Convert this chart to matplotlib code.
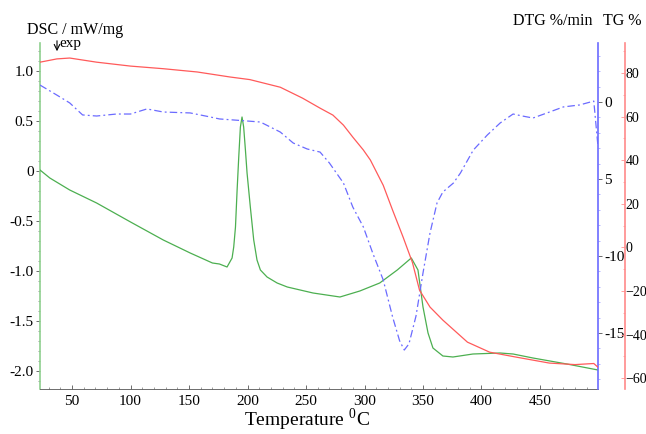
import matplotlib
matplotlib.use("Agg")
import matplotlib.pyplot as plt
from matplotlib.ticker import MultipleLocator, FixedLocator, FixedFormatter

plt.rcParams['font.family'] = ['Liberation Serif', 'DejaVu Serif']
plt.rcParams['mathtext.fontset'] = 'custom'
plt.rcParams['mathtext.rm'] = 'Liberation Serif'

# TG curve (%)
tg_temp = [22.6, 37, 48, 71, 100, 128, 157, 185, 202, 228, 247, 262, 273, 282, 290,
           299, 305, 316, 324, 333, 341, 347, 356, 367, 388, 407, 430, 458, 480, 496, 499.6]
tg_val = [85.0, 86.5, 86.9, 85.0, 83.2, 82.0, 80.5, 78.2, 77.0, 73.5, 68.5, 63.9, 60.7, 56.1, 50.6,
          44.7, 40.1, 28.5, 17.1, 4.7, -7.0, -19.6, -27.4, -33.4, -43.5, -48.1, -50.4, -53.1, -53.8, -53.3, -55.0]

# DTG curve (%/min)
dtg_temp = [22.6, 37, 48, 59, 71, 88, 100, 114, 128, 151, 168, 176, 185, 194, 211, 228, 239, 251,
            262, 270, 282, 290, 299, 307, 316, 324, 330, 334, 338, 344, 350, 356, 362, 367, 376,
            382, 393, 405, 416, 427, 435, 444, 456, 470, 484, 496, 499.6]
dtg_val = [1.10, 0.45, -0.06, -0.84, -0.91, -0.78, -0.78, -0.45, -0.65, -0.71, -0.97, -1.10, -1.15,
           -1.20, -1.30, -1.95, -2.66, -3.05, -3.25, -3.96, -5.26, -6.82, -8.11, -9.80, -11.55,
           -13.95, -15.5, -16.1, -15.7, -13.9, -11.1, -8.5, -6.55, -5.84, -5.26, -4.61, -3.12,
           -2.14, -1.36, -0.78, -0.91, -1.04, -0.71, -0.32, -0.19, 0.06, -2.9]

# DSC curve (mW/mg)
dsc_temp = [22.6, 31, 48, 71, 100, 128, 151, 170, 176, 182.5, 186.8, 188.2, 189.7, 191.1, 192.5,
            193.9, 195.3, 196.7, 198.2, 199.6, 202.4, 205.3, 208.1, 211, 216.7, 225.3, 234, 256,
            279, 296, 313, 328, 340, 345.7, 350, 354.3, 358.5, 367, 375.6, 392.7, 415.8, 427,
            444, 473, 499.6]
dsc_val = [0.01, -0.07, -0.19, -0.32, -0.51, -0.69, -0.82, -0.92, -0.93, -0.96, -0.87, -0.76,
           -0.56, -0.19, 0.14, 0.44, 0.54, 0.44, 0.21, -0.02, -0.36, -0.69, -0.89, -0.99, -1.06,
           -1.12, -1.16, -1.22, -1.26, -1.20, -1.12, -0.99, -0.87, -0.99, -1.36, -1.62, -1.77,
           -1.85, -1.86, -1.83, -1.82, -1.83, -1.87, -1.93, -1.99]

green = '#4caf50'
blue = '#6b6bff'
red = '#ff5a5a'

fig = plt.figure(figsize=(6.46, 4.34), dpi=100)
ax = fig.add_axes([40/646, 1-389/434, 558/646, 346/434])
ax2 = ax.twinx()
ax3 = ax.twinx()

ax.plot(dsc_temp, dsc_val, color=green, lw=0.9, zorder=3)
ax2.plot(dtg_temp, dtg_val, color=blue, lw=0.9, dashes=(6, 2.5, 1.5, 2.5))
ax3.plot(tg_temp, tg_val, color=red, lw=0.9)

# DSC axis (left)
ax.set_xlim(22.6, 499.6)
ax.set_ylim(-2.18, 1.28)
ax.set_xticks([50, 100, 150, 200, 250, 300, 350, 400, 450])
ax.xaxis.set_minor_locator(MultipleLocator(10))
dsc_ticks = [-2.0, -1.5, -1.0, -0.5, 0, 0.5, 1.0]
ax.yaxis.set_major_locator(FixedLocator(dsc_ticks))
ax.yaxis.set_major_formatter(FixedFormatter(['-2.0', '-1.5', '-1.0', '-0.5', '0', '0.5', '1.0']))
ax.yaxis.set_minor_locator(MultipleLocator(0.1))
ax.tick_params(axis='y', which='major', labelsize=11, length=3, width=0.6, pad=1.5, colors='#555555',
               labelcolor='black')
ax.tick_params(axis='y', which='minor', length=1.5, width=0.5, colors='#777777')
ax.tick_params(axis='x', which='major', labelsize=11, direction='in', length=3, width=0.6, pad=4,
               colors='#555555', labelcolor='black')
ax.tick_params(axis='x', which='minor', direction='in', length=1.5, width=0.5, colors='#777777')
ax.spines['left'].set_color('#8fd08f')
ax.spines['left'].set_linewidth(1.2)
ax.spines['bottom'].set_color('#555555')
ax.spines['bottom'].set_linewidth(0.6)
ax.spines['top'].set_visible(False)
ax.spines['right'].set_visible(False)

# DTG axis (blue)
ax2.set_ylim(-18.63, 3.83)
ax2.yaxis.set_major_locator(FixedLocator([0, -5, -10, -15]))
ax2.yaxis.set_major_formatter(FixedFormatter(['0', '5', '-10', '-15']))
ax2.yaxis.set_minor_locator(MultipleLocator(1))
ax2.tick_params(axis='y', which='major', labelsize=11, length=3, width=0.6, pad=1.5, colors='#555555',
                labelcolor='black')
ax2.tick_params(axis='y', which='minor', length=1.5, width=0.5, colors='#9999ff')
for s in ['left', 'top', 'bottom']:
    ax2.spines[s].set_visible(False)
ax2.spines['right'].set_color(blue)
ax2.spines['right'].set_linewidth(1.2)

# TG axis (red)
ax3.spines['right'].set_position(('axes', 1 + 27/558))
ax3.set_ylim(-65, 93.8)
ax3.set_yticks([-60, -40, -20, 0, 20, 40, 60, 80])
ax3.yaxis.set_minor_locator(MultipleLocator(10))
ax3.tick_params(axis='y', which='major', labelsize=10, direction='in', length=3, width=0.6, pad=0.5,
                colors='#ff9090', labelcolor='black')
ax3.tick_params(axis='y', which='minor', direction='in', length=1.5, width=0.5, colors='#ff9090')
for s in ['left', 'top', 'bottom']:
    ax3.spines[s].set_visible(False)
ax3.spines['right'].set_color('#ff8a8a')
ax3.spines['right'].set_linewidth(1.2)

# labels
fig.text(27/646, 1-34/434, 'DSC / mW/mg', fontsize=11.5, va='baseline', ha='left')
fig.text(59/646, 1-43/434, 'exp', fontsize=11, va='center', ha='left')
ax.annotate('', xy=(57/646, 1-54/434), xytext=(57/646, 1-38/434), xycoords='figure fraction',
            arrowprops=dict(arrowstyle='->', color='black', lw=0.8))
fig.text(513/646, 1-21/434, 'DTG %/min', fontsize=11.5, va='center', ha='left')
fig.text(603/646, 1-21/434, 'TG %', fontsize=11.5, va='center', ha='left')
fig.text(307/646, 1-420/434, r'Temperature $^{\mathrm{0}}$C', fontsize=14, va='center', ha='center')

fig.savefig('out.png', dpi=100)
